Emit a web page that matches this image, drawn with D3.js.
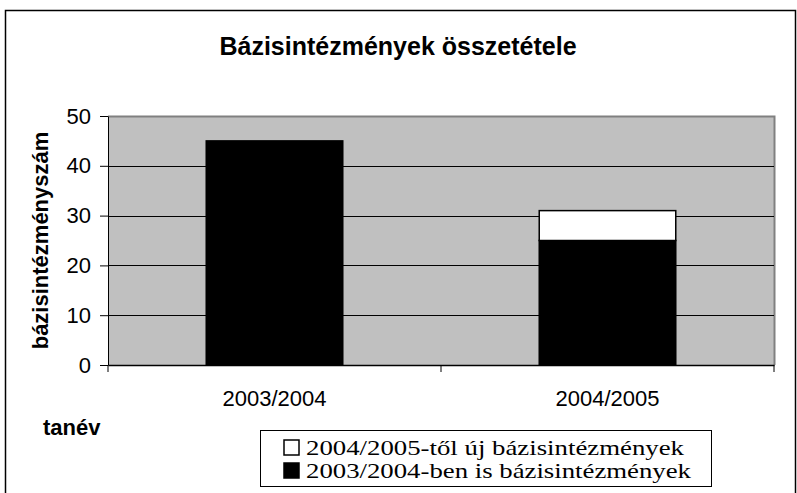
<!DOCTYPE html>
<html>
<head>
<meta charset="utf-8">
<script src="https://cdn.jsdelivr.net/npm/d3@7"></script>
<style>
  body { margin: 0; background: #fff; }
  svg { display: block; }
</style>
</head>
<body>
<svg id="chart"></svg>
<script>
// data
const categories = ['2003/2004', '2004/2005'];
const seriesNames = ['2003/2004-ben is bázisintézmények', '2004/2005-től új bázisintézmények'];
const oldValues = [45, 25];
const newValues = [0, 6];
const yTicks = [0, 10, 20, 30, 40, 50];

const width = 797, height = 493;
const plot = { left: 108, top: 116, right: 774, bottom: 365 };
const sans = '"Liberation Sans", Arial, sans-serif';

const svg = d3.select('#chart').attr('width', width).attr('height', height);

// outer chart frame
svg.append('rect')
  .attr('x', 5.5).attr('y', 10.5)
  .attr('width', 790).attr('height', 495)
  .attr('fill', '#fff').attr('stroke', '#000').attr('stroke-width', 1.5);

const x = d3.scaleBand()
  .domain(categories)
  .range([plot.left, plot.right])
  .paddingInner(0.59).paddingOuter(0.295);

const xOuter = d3.scaleBand().domain(categories).range([plot.left, plot.right]);

const y = d3.scaleLinear().domain([0, 50]).range([plot.bottom, plot.top]);

// plot area
svg.append('rect')
  .attr('x', plot.left).attr('y', plot.top)
  .attr('width', plot.right - plot.left).attr('height', plot.bottom - plot.top)
  .attr('fill', '#c0c0c0');
svg.append('path')
  .attr('d', `M${plot.left},${plot.top + 0.5}H${plot.right + 0.5}V${plot.bottom}`)
  .attr('fill', 'none').attr('stroke', '#808080').attr('stroke-width', 2);

// gridlines
svg.append('g')
  .selectAll('line')
  .data(yTicks.filter(d => d > 0 && d < 50))
  .enter().append('line')
  .attr('x1', plot.left).attr('x2', plot.right)
  .attr('y1', d => Math.round(y(d)) + 0.5).attr('y2', d => Math.round(y(d)) + 0.5)
  .attr('stroke', '#000');

// stacked bars
const stackData = categories.map((c, i) => ({ cat: c, old: oldValues[i], neu: newValues[i] }));
const stack = d3.stack().keys(['old', 'neu'])(stackData);
const fills = ['#000', '#fff'];

svg.append('g')
  .selectAll('g')
  .data(stack)
  .enter().append('g')
  .attr('fill', (d, i) => fills[i])
  .selectAll('rect')
  .data(d => d.filter(s => s[1] > s[0]))
  .enter().append('rect')
  .attr('x', d => x(d.data.cat))
  .attr('y', d => y(d[1]))
  .attr('width', x.bandwidth())
  .attr('height', d => y(d[0]) - y(d[1]))
  .attr('stroke', '#000')
  .attr('stroke-width', 1.5);

// y axis
const yAxis = svg.append('g')
  .attr('transform', `translate(${plot.left},0)`)
  .call(d3.axisLeft(y).tickValues(yTicks).tickSize(8).tickSizeOuter(0).tickPadding(9));
yAxis.selectAll('text')
  .style('font-family', sans)
  .style('font-size', '22px')
  .attr('fill', '#000');

// x axis
const xAxis = svg.append('g')
  .attr('transform', `translate(0,${plot.bottom})`)
  .call(d3.axisBottom(xOuter).tickSize(0).tickPadding(25));
xAxis.selectAll('text')
  .style('font-family', sans)
  .style('font-size', '22px')
  .attr('fill', '#000');
xAxis.selectAll('.domain').attr('stroke-width', 1.5);
xAxis.append('g')
  .selectAll('line')
  .data([plot.left, (plot.left + plot.right) / 2, plot.right])
  .enter().append('line')
  .attr('x1', d => d).attr('x2', d => d)
  .attr('y1', 0).attr('y2', 7)
  .attr('stroke', '#000');
svg.selectAll('.domain').attr('stroke', '#000');

// title
svg.append('text')
  .attr('x', 398).attr('y', 55)
  .attr('text-anchor', 'middle')
  .style('font-family', sans)
  .style('font-weight', 'bold')
  .style('font-size', '25px')
  .text('Bázisintézmények összetétele');

// axis titles
svg.append('text')
  .attr('transform', `translate(48,${(plot.top + plot.bottom) / 2}) rotate(-90)`)
  .attr('text-anchor', 'middle')
  .style('font-family', sans)
  .style('font-weight', 'bold')
  .style('font-size', '22px')
  .text('bázisintézményszám');

svg.append('text')
  .attr('x', 43).attr('y', 435)
  .style('font-family', sans)
  .style('font-weight', 'bold')
  .style('font-size', '22px')
  .text('tanév');

// legend
const legend = svg.append('g').attr('transform', 'translate(260,430)');
legend.append('rect')
  .attr('x', 0.5).attr('y', 0.5)
  .attr('width', 451).attr('height', 56)
  .attr('fill', '#fff').attr('stroke', '#000');

const legendItems = [
  { name: seriesNames[1], fill: '#fff', len: 378 },
  { name: seriesNames[0], fill: '#000', len: 385 }
];
const li = legend.selectAll('.item')
  .data(legendItems)
  .enter().append('g')
  .attr('class', 'item')
  .attr('transform', (d, i) => `translate(24,${10 + i * 23})`);
li.append('rect')
  .attr('width', 15).attr('height', 15)
  .attr('fill', d => d.fill).attr('stroke', '#000').attr('stroke-width', 1.5);
li.append('text')
  .attr('x', 22).attr('y', 15)
  .attr('textLength', d => d.len)
  .attr('lengthAdjust', 'spacingAndGlyphs')
  .style('font-family', '"Liberation Serif", "Times New Roman", serif')
  .style('font-size', '21px')
  .text(d => d.name);
</script>
</body>
</html>
